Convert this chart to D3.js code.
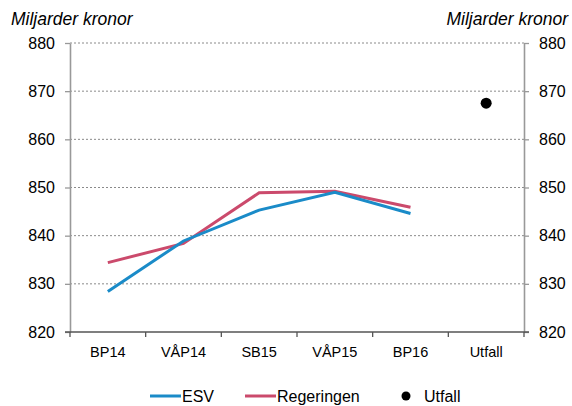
<!DOCTYPE html>
<html>
<head>
<meta charset="utf-8">
<script src="https://cdn.jsdelivr.net/npm/d3@7"></script>
<style>
  body { margin: 0; background: #fff; }
  svg text { font-family: "Liberation Sans", Arial, sans-serif; }
</style>
</head>
<body>
<div id="chart"></div>
<script>
var svgWidth = 572;
var svgHeight = 406;

var margin = { top: 43, right: 48, bottom: 74, left: 70 };
var chartWidth = svgWidth - margin.left - margin.right;
var chartHeight = svgHeight - margin.top - margin.bottom;

// data
var categories = ["BP14", "VÅP14", "SB15", "VÅP15", "BP16", "Utfall"];
var esv = [828.4, 838.9, 845.3, 849.0, 844.6];
var regeringen = [834.4, 838.4, 848.9, 849.2, 845.9];
var utfall = 867.5;
var yTicks = [820, 830, 840, 850, 860, 870, 880];

var blue = "#1a8bc8";
var red = "#cb4a6c";
var axisColor = "#999";

var svg = d3.select("#chart")
  .append("svg")
  .attr("width", svgWidth)
  .attr("height", svgHeight);

var g = svg.append("g")
  .attr("transform", `translate(${margin.left}, ${margin.top})`);

var x = d3.scaleBand()
  .domain(categories)
  .range([0, chartWidth]);

var y = d3.scaleLinear()
  .domain([820, 880])
  .range([chartHeight, 0]);

var cx = d => x(d) + x.bandwidth() / 2;

// grid
g.append("g")
  .selectAll("line")
  .data(yTicks.filter(t => t > 820))
  .enter()
  .append("line")
  .attr("x1", 0)
  .attr("x2", chartWidth)
  .attr("y1", d => y(d))
  .attr("y2", d => y(d))
  .attr("stroke", "#8a8a8a")
  .attr("stroke-width", 1)
  .attr("stroke-dasharray", "2,2");

// axes
var leftAxis = d3.axisLeft(y).tickValues(yTicks).tickSize(5).tickSizeOuter(0).tickPadding(10);
var rightAxis = d3.axisRight(y).tickValues(yTicks).tickSize(5).tickSizeOuter(0).tickPadding(10);

function styleAxis(sel) {
  sel.select(".domain").attr("stroke", axisColor).attr("stroke-width", 1.6);
  sel.selectAll(".tick line").attr("stroke", axisColor).attr("stroke-width", 1.3);
  sel.selectAll("text").attr("font-size", 16).attr("fill", "#000");
}

g.append("g").call(leftAxis).call(styleAxis);
g.append("g").attr("transform", `translate(${chartWidth},0)`).call(rightAxis).call(styleAxis);

// bottom axis with ticks at category boundaries
var bottom = g.append("g").attr("transform", `translate(0,${chartHeight})`);
bottom.append("line")
  .attr("x1", -5).attr("x2", chartWidth + 5)
  .attr("y1", 0).attr("y2", 0)
  .attr("stroke", "#555").attr("stroke-width", 1.3);
bottom.selectAll(".btick")
  .data(categories.concat(["end"]))
  .enter()
  .append("line")
  .attr("x1", (d, i) => i * x.step())
  .attr("x2", (d, i) => i * x.step())
  .attr("y1", 0).attr("y2", 5)
  .attr("stroke", "#555").attr("stroke-width", 1.3);
bottom.selectAll("text")
  .data(categories)
  .enter()
  .append("text")
  .attr("x", d => cx(d))
  .attr("y", 25)
  .attr("text-anchor", "middle")
  .attr("font-size", 14.5)
  .text(d => d);

// lines
var line = d3.line()
  .x((d, i) => cx(categories[i]))
  .y(d => y(d));

g.append("path")
  .datum(regeringen)
  .attr("d", line)
  .attr("fill", "none")
  .attr("stroke", red)
  .attr("stroke-width", 3);

g.append("path")
  .datum(esv)
  .attr("d", line)
  .attr("fill", "none")
  .attr("stroke", blue)
  .attr("stroke-width", 3);

g.append("circle")
  .attr("cx", cx("Utfall"))
  .attr("cy", y(utfall))
  .attr("r", 5.5)
  .attr("fill", "#000");

// axis titles
svg.append("text")
  .attr("x", 11)
  .attr("y", 25)
  .attr("font-size", 17.5)
  .attr("font-style", "italic")
  .text("Miljarder kronor");

svg.append("text")
  .attr("x", 568)
  .attr("y", 25)
  .attr("text-anchor", "end")
  .attr("font-size", 17.5)
  .attr("font-style", "italic")
  .text("Miljarder kronor");

// legend
var legend = svg.append("g").attr("transform", "translate(0,396)");
var legendItems = [
  { name: "ESV", color: blue, type: "line", x: 150 },
  { name: "Regeringen", color: red, type: "line", x: 245 },
  { name: "Utfall", color: "#000", type: "dot", x: 400 }
];
legendItems.forEach(function(item) {
  if (item.type === "line") {
    legend.append("line")
      .attr("x1", item.x).attr("x2", item.x + 31)
      .attr("y1", 0).attr("y2", 0)
      .attr("stroke", item.color).attr("stroke-width", 3);
    legend.append("text")
      .attr("x", item.x + 32).attr("y", 6)
      .attr("font-size", 16)
      .text(item.name);
  } else {
    legend.append("circle")
      .attr("cx", item.x + 6).attr("cy", 0).attr("r", 4.5)
      .attr("fill", item.color);
    legend.append("text")
      .attr("x", item.x + 24).attr("y", 6)
      .attr("font-size", 16)
      .text(item.name);
  }
});
</script>
</body>
</html>
